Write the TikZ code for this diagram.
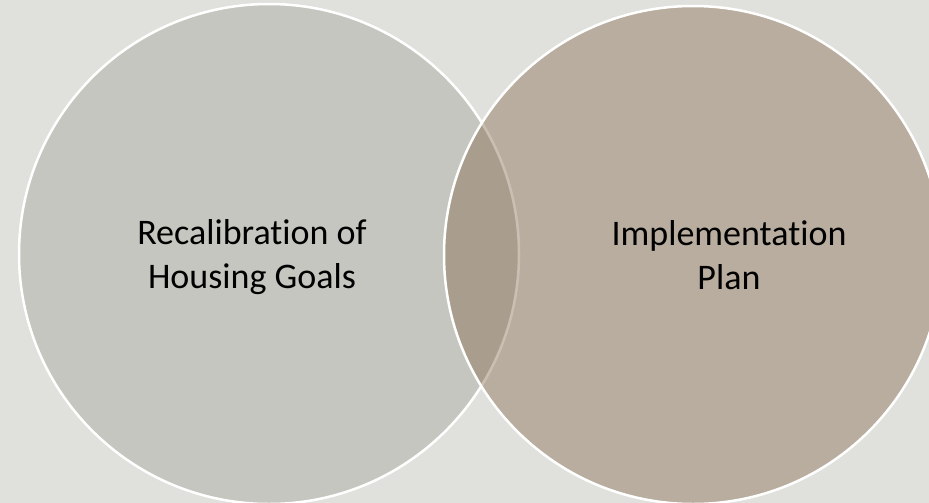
\documentclass[tikz,border=0pt]{standalone}
\usepackage{fontspec}
\setmainfont{Carlito}[Ligatures={NoCommon}]
\definecolor{bgc}{RGB}{224,224,220}
\definecolor{leftc}{RGB}{198,198,192}
\definecolor{rightc}{RGB}{130,104,74}
\tikzset{
  venn/.style={circle, draw=white, line width=2.5pt, inner sep=0pt},
  lbl/.style={align=center, inner sep=0pt, text=black, font=\fontsize{36}{44}\selectfont}
}
\begin{document}
\begin{tikzpicture}[x=1pt,y=-1pt]
\useasboundingbox (0,0) rectangle (929,503);
\fill[bgc] (0,0) rectangle (929,503);
\node[venn, fill=leftc, minimum size=500pt] (L) at (269,254) {};
\node[venn, fill=rightc, fill opacity=0.42, minimum size=498pt] (R) at (693,255) {};
\node[lbl] (lt) at (252,257) {Recalibration of\\Housing Goals};
\node[lbl] (rt) at (729,255) {Implementation\\Plan};
\end{tikzpicture}
\end{document}
